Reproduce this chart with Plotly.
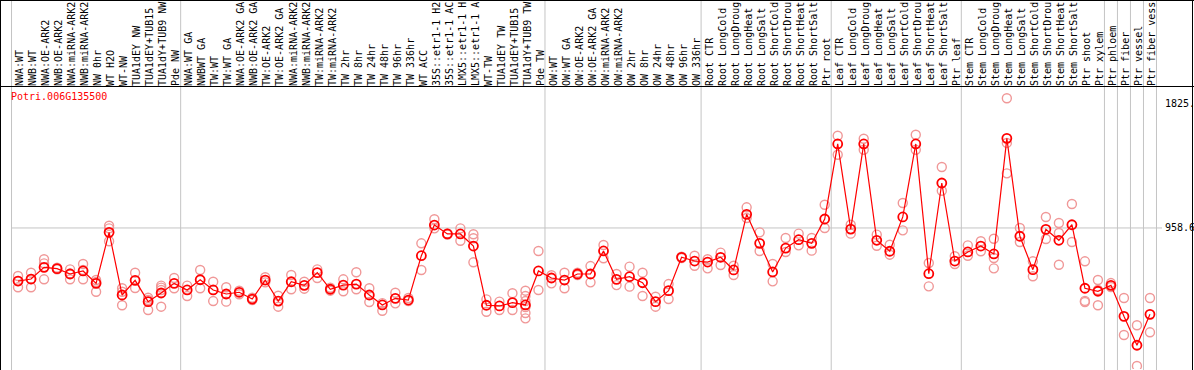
import plotly.graph_objects as go

labels = [
    "NWA:WT", "NWB:WT", "NWA:OE-ARK2", "NWB:OE-ARK2", "NWA:miRNA-ARK2", "NWB:miRNA-ARK2",
    "NW 0hr", "WT H2O", "WT-NW", "TUA1dEY NW", "TUA1dEY+TUB15 NW", "TUA1dY+TUB9 NW", "Pde NW",
    "NWA:WT GA", "NWBWT GA", "TW:WT", "TW:WT GA", "NWA:OE-ARK2 GA", "NWB:OE-ARK2 GA",
    "TW:OE-ARK2", "TW:OE-ARK2 GA", "NWA:miRNA-ARK2 GA", "NWB:miRNA-ARK2 GA", "TW:miRNA-ARK2",
    "TW:miRNA-ARK2 GA", "TW 2hr", "TW 8hr", "TW 24hr", "TW 48hr", "TW 96hr", "TW 336hr",
    "WT ACC", "35S::etr1-1 H2O", "35S::etr1-1 ACC", "LMX5::etr1-1 H2O", "LMX5::etr1-1 ACC",
    "WT-TW", "TUA1dEY TW", "TUA1dEY+TUB15 TW", "TUA1dY+TUB9 TW", "Pde TW",
    "OW:WT", "OW:WT GA", "OW:OE-ARK2", "OW:OE-ARK2 GA", "OW:miRNA-ARK2", "OW:miRNA-ARK2 GA",
    "OW 2hr", "OW 8hr", "OW 24hr", "OW 48hr", "OW 96hr", "OW 336hr",
    "Root CTR", "Root LongCold", "Root LongDrought", "Root LongHeat", "Root LongSalt",
    "Root ShortCold", "Root ShortDrought", "Root ShortHeat", "Root ShortSalt", "Ptr root",
    "Leaf CTR", "Leaf LongCold", "Leaf LongDrought", "Leaf LongHeat", "Leaf LongSalt",
    "Leaf ShortCold", "Leaf ShortDrought", "Leaf ShortHeat", "Leaf ShortSalt", "Ptr leaf",
    "Stem CTR", "Stem LongCold", "Stem LongDrought", "Stem LongHeat", "Stem LongSalt",
    "Stem ShortCold", "Stem ShortDrought", "Stem ShortHeat", "Stem ShortSalt", "Ptr shoot",
    "Ptr xylem", "Ptr phloem", "Ptr fiber", "Ptr vessel", "Ptr fiber vessel",
]

means = [
    590, 604, 685, 676, 639, 660, 574, 928, 493, 595,
    447, 507, 574, 528, 599, 528, 500, 512, 465, 597,
    451, 585, 560, 648, 533, 562, 569, 493, 424, 470,
    458, 766, 979, 917, 917, 833, 422, 417, 440, 424,
    660, 611, 597, 639, 639, 799, 602, 620, 578, 447,
    523, 755, 729, 722, 755, 667, 1053, 852, 653, 819,
    877, 852, 1021, 1542, 951, 1542, 873, 797, 1035, 1542,
    641, 1271, 729, 792, 833, 778, 1581, 901, 669, 949,
    873, 981, 540, 519, 560, 345, 144, 359,
]

replicates = [
    [625, 590, 547], [648, 604, 547], [741, 713, 602], [683, 671], [671, 642, 602],
    [708, 667, 602], [597, 583, 516], [974, 956, 866], [540, 516, 422], [648, 542],
    [474, 458, 389], [558, 544, 528, 412], [611, 540], [558, 486], [667, 540],
    [585, 451], [547, 447], [523, 498], [474, 458], [616, 581],
    [488, 412], [632, 533], [585, 537], [671, 611], [544, 523],
    [602, 519], [651, 533], [540, 444], [437, 384], [509, 435],
    [472, 451], [852, 667], [1019, 956], [921, 912], [956, 870],
    [915, 887, 720], [463, 377], [447, 389], [505, 389], [523, 486, 451, 410, 368, 331],
    [799, 528], [630, 574], [648, 540], [648, 632], [694, 581],
    [840, 748], [639, 562], [690, 551], [648, 486], [481, 412],
    [569, 465], [759, 750], [766, 696], [741, 678], [787, 701],
    [696, 632], [1102, 1028], [928, 799], [708, 588], [889, 792],
    [919, 838], [889, 801], [1120, 958], [1599, 1467], [981, 919],
    [1578, 1502], [912, 835], [842, 773], [1132, 942], [1606, 1502],
    [715, 553], [1382, 1217], [762, 708], [838, 766], [866, 797],
    [884, 750, 678], [1859, 1549, 1338], [958, 861], [727, 623], [1035, 882],
    [993, 924, 703], [1125, 861], [727, 452, 444], [597, 528, 422], [576, 549],
    [472, 215], [283, 0], [472, 234],
]

group_bounds = [-0.5, 12.5, 40.5, 52.5, 62.5, 72.5, 83.5, 84.5, 85.5, 86.5, 87.5]
y_ticks = [0, 958.6, 1825]
y_ticktext = ["0", "958.6", "1825."]
gene = "Potri.006G135500"
LABEL_CHARS = 14  # the reference shows only the first 14 characters of each label

W, H = 1194, 370
ML, MR, MT, MB = 11, 37, 87, 1
PW, PH = W - ML - MR, H - MT - MB


def px(xp):
    return (xp - ML) / PW


def py(yp):
    return (H - MB - yp) / PH


FONT = "DejaVu Sans Mono"
xs = list(range(len(labels)))
shown_labels = [lab[:LABEL_CHARS].rstrip() for lab in labels]
rep_x = [i for i, r in enumerate(replicates) for _ in r]
rep_y = [v for r in replicates for v in r]

fig = go.Figure()
fig.add_trace(go.Scatter(
    x=rep_x, y=rep_y, mode="markers",
    marker=dict(symbol="circle-open", size=9, color="#f09898", line=dict(width=1.4)),
    hoverinfo="skip", showlegend=False,
))
fig.add_trace(go.Scatter(
    x=xs, y=means, mode="lines+markers",
    line=dict(color="#ff0000", width=1.2),
    marker=dict(symbol="circle-open", size=9, color="#ff0000", line=dict(width=1.8)),
    showlegend=False,
))

shapes = []
for b in group_bounds:
    shapes.append(dict(type="line", xref="x", yref="paper", x0=b, x1=b, y0=-0.01, y1=py(0),
                       line=dict(color="#c4c4c4", width=1), layer="below"))
shapes.append(dict(type="line", xref="paper", yref="y", x0=0, x1=px(1162), y0=958.6, y1=958.6,
                   line=dict(color="#c4c4c4", width=1), layer="below"))
black = dict(color="black", width=1)
shapes.append(dict(type="line", xref="paper", yref="paper", x0=px(0), x1=px(W), y0=py(0.5), y1=py(0.5), line=black))
shapes.append(dict(type="line", xref="paper", yref="paper", x0=px(0), x1=px(W), y0=py(86.5), y1=py(86.5), line=black))
shapes.append(dict(type="line", xref="paper", yref="paper", x0=px(0.5), x1=px(0.5), y0=py(H), y1=py(0), line=black))
shapes.append(dict(type="line", xref="paper", yref="paper", x0=px(1192.5), x1=px(1192.5), y0=py(H), y1=py(0), line=black))

fig.update_layout(
    template="none",
    width=W, height=H,
    margin=dict(l=ML, r=MR, t=MT, b=MB, pad=0),
    paper_bgcolor="white", plot_bgcolor="rgba(0,0,0,0)",
    showlegend=False,
    shapes=shapes,
    xaxis=dict(
        range=[-0.54, 87.54], side="top", tickmode="array", tickvals=xs, ticktext=shown_labels,
        tickangle=-90, tickfont=dict(family=FONT, size=10, color="black"), ticklabelshift=2,
        showgrid=False, zeroline=False, showline=False, ticks="", automargin=False,
    ),
    yaxis=dict(
        range=[-20.8, 1937.5], side="right", tickmode="array", tickvals=y_ticks, ticktext=y_ticktext,
        tickfont=dict(family=FONT, size=10, color="black"),
        showgrid=False, zeroline=False, showline=False, ticks="outside", ticklen=5,
        tickcolor="rgba(0,0,0,0)", automargin=False,
    ),
    annotations=[dict(text=gene, xref="paper", yref="paper", x=px(9), y=py(96.5),
                      xanchor="left", yanchor="middle", showarrow=False,
                      font=dict(family=FONT, size=10, color="#ff0000"))],
)

fig.write_html("out.html", config={"displayModeBar": False},
               post_script="document.body.style.margin='0';")
